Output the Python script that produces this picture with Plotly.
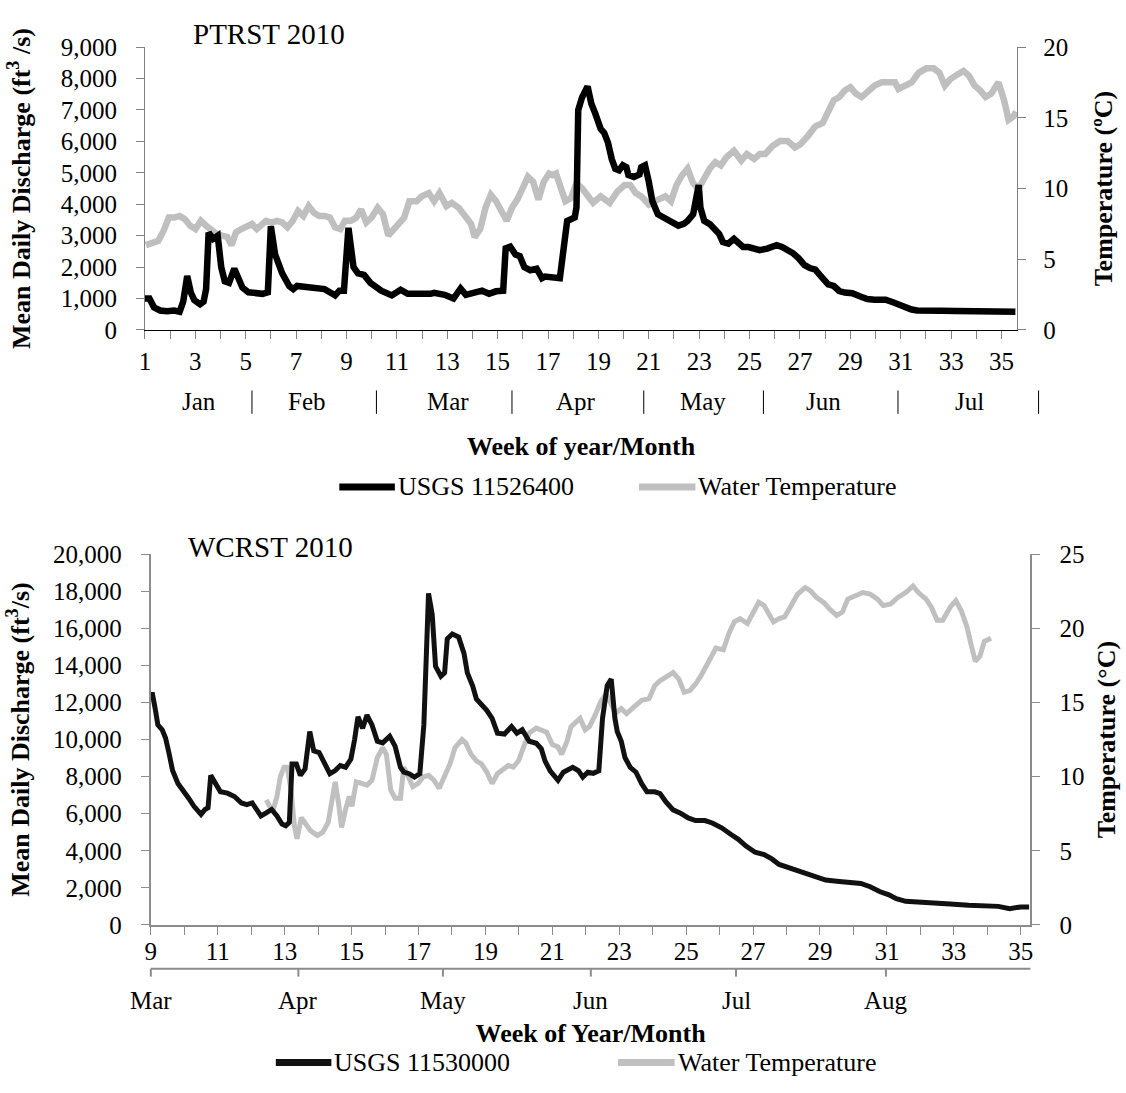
import plotly.graph_objects as go

# ---------------- DATA ----------------
# PTRST 2010 (top panel) : week of year vs mean daily discharge (ft3/s)
ptrst_q_week = [1.00, 1.18, 1.36, 1.60, 1.88, 2.16, 2.38, 2.52, 2.68, 2.82, 2.96, 3.19, 3.33, 3.43, 3.53,
                3.71, 3.89, 4.03, 4.17, 4.34, 4.55, 4.69, 4.87, 5.11, 5.39, 5.67, 5.88, 6.00, 6.17, 6.45,
                6.73, 6.89, 7.04, 7.43, 7.78, 8.13, 8.34, 8.55, 8.72, 8.90, 9.08, 9.28, 9.46, 9.70, 9.95,
                10.38, 10.80, 11.15, 11.43, 11.92, 12.34, 12.48, 12.90, 13.25, 13.53, 13.74, 14.17, 14.38,
                14.66, 14.94, 15.22, 15.32, 15.50, 15.71, 15.88, 16.06, 16.30, 16.55, 16.76, 16.88, 17.47,
                17.65, 17.76, 18.06, 18.13, 18.20, 18.35, 18.57, 18.72, 18.87, 19.09, 19.23, 19.38, 19.53,
                19.67, 19.82, 19.97, 20.11, 20.19, 20.41, 20.63, 20.70, 20.85, 21.00, 21.14, 21.36, 21.58,
                21.80, 22.02, 22.17, 22.39, 22.54, 22.76, 22.98, 23.05, 23.20, 23.42, 23.64, 23.79, 23.94,
                24.16, 24.38, 24.52, 24.74, 24.96, 25.18, 25.40, 25.70, 26.07, 26.29, 26.51, 26.73, 26.95,
                27.17, 27.39, 27.61, 27.83, 28.12, 28.34, 28.56, 28.78, 29.08, 29.37, 29.67, 29.96, 30.40,
                30.69, 30.99, 31.21, 31.43, 31.65, 32.02, 32.60, 33.19, 33.78, 34.37, 34.95, 35.55]
ptrst_q = [1000, 1000, 720, 620, 600, 620, 580, 900, 1720, 1200, 950, 820, 900, 1300, 3100,
           2900, 3000, 2000, 1550, 1500, 1950, 1700, 1350, 1200, 1150, 1150, 1200, 3300, 2400, 1800,
           1400, 1300, 1400, 1350, 1350, 1300, 1200, 1100, 1250, 1250, 3250, 2000, 1800, 1750, 1500,
           1250, 1100, 1280, 1150, 1130, 1150, 1180, 1120, 1000, 1320, 1120, 1180, 1250,
           1150, 1230, 1250, 2600, 2650, 2400, 2350, 2000, 1900, 1950, 1650, 1700, 1650,
           3000, 3470, 3580, 3900, 7000, 7400, 7750, 7200, 6900, 6400, 6270, 5960, 5440,
           5130, 5080, 5240, 5180, 4930, 4870, 4950, 5180, 5240, 4720, 4100, 3680, 3580,
           3470, 3370, 3320, 3380, 3470, 3680, 4610, 3890, 3470, 3370, 3210, 3060, 2800,
           2750, 2900, 2800, 2640, 2640, 2590, 2540, 2590, 2700, 2640, 2540, 2440, 2280,
           2070, 1970, 1920, 1710, 1450, 1400, 1240, 1190, 1170, 1070, 985, 965, 965,
           880, 780, 730, 650, 620, 600, 610, 600, 590, 580, 570, 580]

ptrst_t_week = [1.04, 1.18, 1.39, 1.53, 1.74, 1.95, 2.16, 2.38, 2.59, 2.80, 3.01, 3.22, 3.43, 3.64, 3.85,
                4.06, 4.27, 4.44, 4.62, 4.83, 5.04, 5.25, 5.44, 5.60, 5.81, 6.02, 6.24, 6.45, 6.66, 6.87,
                7.08, 7.29, 7.50, 7.71, 7.92, 8.13, 8.34, 8.55, 8.76, 8.94, 9.18, 9.39, 9.58, 9.79, 10.00,
                10.24, 10.45, 10.66, 10.87, 11.08, 11.29, 11.50, 11.78, 11.99, 12.27, 12.48, 12.69, 12.97,
                13.18, 13.46, 13.74, 13.95, 14.09, 14.31, 14.52, 14.73, 14.94, 15.15, 15.36, 15.57, 15.78,
                15.99, 16.20, 16.41, 16.62, 16.83, 17.04, 17.18, 17.32, 17.47, 17.69, 17.91, 18.13, 18.35,
                18.57, 18.79, 19.09, 19.45, 19.75, 20.04, 20.26, 20.48, 20.70, 21.00, 21.22, 21.44, 21.66,
                21.88, 22.10, 22.32, 22.54, 22.76, 22.98, 23.20, 23.42, 23.64, 23.86, 24.08, 24.38, 24.67,
                24.89, 25.18, 25.40, 25.62, 25.92, 26.21, 26.51, 26.80, 27.02, 27.31, 27.61, 27.90, 28.12,
                28.34, 28.56, 28.78, 29.00, 29.22, 29.45, 29.67, 29.96, 30.25, 30.55, 30.77, 30.91, 31.21,
                31.43, 31.72, 32.02, 32.31, 32.53, 32.75, 32.97, 33.27, 33.49, 33.71, 33.93, 34.15, 34.37,
                34.59, 34.88, 35.10, 35.28, 35.47, 35.58]
ptrst_t = [6.0, 6.1, 6.3, 6.3, 7.0, 7.95, 7.95, 8.06, 7.83, 7.37, 7.14, 7.72, 7.37, 7.03, 6.8,
           6.68, 6.57, 6.0, 6.91, 7.14, 7.37, 7.49, 7.14, 7.37, 7.72, 7.6, 7.72, 7.6, 7.26, 7.72,
           8.41, 8.06, 8.76, 8.29, 8.06, 8.06, 7.95, 7.26, 7.14, 7.72, 7.72, 7.95, 8.53, 7.6, 7.95,
           8.64, 8.18, 6.68, 7.14, 7.6, 7.95, 9.1, 9.1, 9.45, 9.68, 9.1, 9.68, 8.76,
           8.99, 8.64, 7.95, 7.49, 6.57, 7.14, 8.64, 9.56, 9.1, 8.41, 7.72, 8.64, 9.22,
           10.02, 10.83, 10.48, 9.22, 10.48, 11.06, 10.94, 11.06, 10.25, 9.1, 9.33, 10.37, 10.02,
           9.45, 8.99, 9.45, 8.99, 9.79, 10.25, 10.25, 9.68, 9.45, 8.87, 9.1, 9.22, 9.45,
           9.1, 10.25, 10.94, 11.41, 10.37, 10.02, 10.71, 11.41, 11.87, 11.64, 12.21, 12.67, 11.98,
           12.44, 12.1, 12.44, 12.44, 13.02, 13.36, 13.36, 12.9, 13.13, 13.71, 14.4, 14.63, 15.55,
           16.24, 16.47, 16.94, 17.17, 16.71, 16.47, 16.82, 17.28, 17.51, 17.51, 17.51, 17.05, 17.28,
           17.51, 18.2, 18.5, 18.5, 18.2, 17.28, 17.74, 18.09, 18.32, 17.97, 17.28, 16.94, 16.47,
           16.71, 17.51, 16.24, 14.86, 15.09, 15.44]

# WCRST 2010 (bottom panel)
wcrst_q_week = [9.00, 9.04, 9.13, 9.21, 9.34, 9.44, 9.55, 9.65, 9.81, 9.97, 10.13, 10.29, 10.39, 10.50,
                10.62, 10.71, 10.79, 10.92, 11.08, 11.29, 11.50, 11.71, 11.87, 12.03, 12.13, 12.29, 12.45,
                12.61, 12.77, 12.92, 13.03, 13.14, 13.22, 13.35, 13.47, 13.61, 13.75, 13.87, 14.03, 14.19,
                14.35, 14.51, 14.66, 14.82, 14.98, 15.09, 15.19, 15.33, 15.46, 15.61, 15.77, 15.93, 16.14,
                16.30, 16.46, 16.56, 16.72, 16.88, 17.04, 17.16, 17.30, 17.41, 17.51, 17.67, 17.78, 17.86,
                18.01, 18.20, 18.36, 18.46, 18.62, 18.73, 18.88, 19.04, 19.20, 19.36, 19.57, 19.78, 19.94,
                20.10, 20.31, 20.52, 20.67, 20.78, 20.94, 21.17, 21.33, 21.61, 21.78, 21.91, 22.06, 22.22,
                22.39, 22.50, 22.64, 22.76, 22.87, 22.94, 23.06, 23.17, 23.33, 23.50, 23.67, 23.83, 24.06,
                24.22, 24.39, 24.61, 24.83, 25.06, 25.28, 25.56, 25.78, 26.06, 26.33, 26.56, 26.78, 27.06,
                27.33, 27.56, 27.78, 28.06, 28.33, 28.61, 28.89, 29.17, 29.50, 29.89, 30.22, 30.50, 30.78,
                31.06, 31.28, 31.56, 31.89, 32.33, 32.89, 33.44, 34.00, 34.33, 34.67, 35.00, 35.25]
wcrst_q = [12200, 12540, 11670, 10790, 10530, 10090, 9210, 8330, 7630, 7280, 6840, 6400, 6140, 5960,
           6230, 6320, 8070, 7630, 7190, 7110, 6930, 6580, 6490, 6580, 6320, 5880, 6050,
           6230, 5880, 5440, 5350, 5530, 8680, 8680, 8070, 8420, 10440, 9390, 9300, 8770,
           8160, 8330, 8600, 8510, 8950, 10000, 11230, 10610, 11320, 10790, 9910, 9820, 10180,
           9650, 8510, 8250, 8160, 7980, 8160, 10790, 17890, 16750, 13950, 13420, 13600, 15440,
           15700, 15530, 14650, 13600, 12890, 12190, 11930, 11580, 11140, 10350, 10300, 10700, 10350,
           10530, 9910, 9800, 9500, 8850, 8300, 7800, 8240, 8500, 8320, 7970, 8240, 8180,
           8320, 11150, 12910, 13260, 11150, 10440, 9910, 9030, 8500, 8240, 7620, 7180, 7180,
           7090, 6650, 6210, 6030, 5770, 5630, 5630, 5500, 5240, 4890, 4620, 4270, 3920,
           3790, 3560, 3260, 3090, 2950, 2770, 2560, 2420, 2360, 2330, 2240, 2060, 1800,
           1620, 1410, 1270, 1220, 1180, 1130, 1060, 1000, 1000, 880, 970, 970]

wcrst_t_week = [12.45, 12.55, 12.66, 12.77, 12.87, 12.98, 13.08, 13.19, 13.29, 13.37, 13.50, 13.61, 13.77,
                13.98, 14.14, 14.30, 14.40, 14.51, 14.61, 14.70, 14.82, 14.93, 15.01, 15.14, 15.30, 15.46,
                15.61, 15.77, 15.93, 16.04, 16.17, 16.30, 16.46, 16.56, 16.70, 16.83, 16.99, 17.14, 17.30,
                17.46, 17.62, 17.78, 17.94, 18.09, 18.30, 18.41, 18.57, 18.73, 18.88, 19.04, 19.20, 19.36,
                19.52, 19.68, 19.83, 19.99, 20.15, 20.31, 20.52, 20.67, 20.83, 21.00, 21.17, 21.28, 21.44,
                21.56, 21.72, 21.83, 21.98, 22.11, 22.28, 22.44, 22.61, 22.76, 22.89, 23.06, 23.22, 23.44,
                23.67, 23.89, 24.06, 24.22, 24.44, 24.61, 24.78, 24.94, 25.11, 25.28, 25.44, 25.67, 25.89,
                26.11, 26.28, 26.44, 26.61, 26.83, 27.00, 27.17, 27.33, 27.50, 27.61, 27.78, 27.94, 28.11,
                28.33, 28.56, 28.72, 28.89, 29.11, 29.28, 29.50, 29.67, 29.83, 30.06, 30.28, 30.50, 30.72,
                30.89, 31.11, 31.33, 31.56, 31.78, 31.94, 32.17, 32.33, 32.50, 32.67, 32.89, 33.06, 33.22,
                33.39, 33.53, 33.64, 33.78, 33.91, 34.11]
wcrst_t = [8.44, 8.0, 7.79, 8.66, 9.98, 10.64, 10.64, 9.1, 6.69, 5.81, 7.24, 6.91, 6.36,
           6.03, 6.25, 6.91, 8.11, 9.65, 8.22, 6.58, 7.79, 8.66, 8.0, 9.65, 9.54, 9.43,
           9.76, 11.29, 11.95, 11.51, 9.1, 8.55, 8.55, 10.64, 9.98, 9.32, 9.54, 9.98, 10.09,
           9.76, 9.21, 9.98, 10.86, 11.95, 12.5, 12.28, 11.51, 11.07, 10.86, 10.31, 9.54, 10.2,
           10.53, 10.75, 10.64, 11.07, 12.06, 12.94, 13.27, 13.16, 13.0, 12.17, 12.0, 11.51, 12.39,
           13.38, 13.71, 13.93, 13.16, 13.38, 14.15, 15.04, 15.59, 14.93, 14.26, 14.59, 14.26, 14.7,
           15.15, 15.26, 16.14, 16.47, 16.8, 17.02, 16.58, 15.7, 15.81, 16.25, 16.8, 17.79, 18.67,
           18.56, 19.67, 20.44, 20.66, 20.33, 21.1, 21.76, 21.54, 20.88, 20.44, 20.66, 20.77, 21.43,
           22.31, 22.75, 22.53, 22.09, 21.76, 21.32, 20.88, 21.1, 21.98, 22.2, 22.42, 22.31, 21.98,
           21.54, 21.65, 22.09, 22.42, 22.86, 22.42, 21.98, 21.43, 20.55, 20.55, 21.43, 21.87, 21.21,
           20.11, 18.78, 17.79, 18.12, 19.11, 19.33]

# Month labels / boundaries (in week-of-year units)
ptrst_months = ["Jan", "Feb", "Mar", "Apr", "May", "Jun", "Jul"]
ptrst_month_label_week = [3.13, 7.43, 13.02, 18.11, 23.14, 27.94, 33.71]
ptrst_month_sep_week = [5.25, 10.19, 15.57, 20.80, 25.55, 30.89, 36.47]

wcrst_months = ["Mar", "Apr", "May", "Jun", "Jul", "Aug"]
wcrst_month_week = [9.00, 13.41, 17.73, 22.15, 26.49, 30.97]

ptrst_series_names = ["USGS 11526400", "Water Temperature"]
wcrst_series_names = ["USGS 11530000", "Water Temperature"]

# ---------------- LAYOUT GEOMETRY ----------------
W, H = 1126, 1093
FONT = "Liberation Serif"

top_x = (140.0, 1019.3)
top_y = (35.0, 325.0)
top_xr = (1.0, 35.62)
bot_x = (146.0, 1032.7)
bot_y = (555.0, 935.0)
bot_xr = (9.0, 35.29)


def px(v):
    return v / W


def py(v):
    return 1 - v / H


def wk2paper(w, xpx, xr):
    return px(xpx[0] + (w - xr[0]) / (xr[1] - xr[0]) * (xpx[1] - xpx[0]))


BLACK = "#000000"
GRAY = "#bfbfbf"
BLACK2 = "#111111"
GRAY2 = "#c0c0c0"

fig = go.Figure()

fig.add_trace(go.Scatter(x=ptrst_q_week, y=ptrst_q, name=ptrst_series_names[0], mode="lines",
                         line=dict(color=BLACK, width=6.5), xaxis="x", yaxis="y2", showlegend=False))
fig.add_trace(go.Scatter(x=ptrst_t_week, y=ptrst_t, name=ptrst_series_names[1], mode="lines",
                         line=dict(color=GRAY, width=6.5), xaxis="x", yaxis="y", showlegend=False))
fig.add_trace(go.Scatter(x=wcrst_q_week, y=wcrst_q, name=wcrst_series_names[0], mode="lines",
                         line=dict(color=BLACK2, width=5), xaxis="x2", yaxis="y4", showlegend=False))
fig.add_trace(go.Scatter(x=wcrst_t_week, y=wcrst_t, name=wcrst_series_names[1], mode="lines",
                         line=dict(color=GRAY2, width=5), xaxis="x2", yaxis="y3", showlegend=False))

tickfont = dict(family=FONT, size=25, color="black")
titlefont = dict(family=FONT, size=26, color="black")

common_x = dict(showgrid=False, zeroline=False, showline=True, ticks="outside", ticklen=8,
                tickfont=tickfont)

fig.update_layout(
    width=W, height=H,
    margin=dict(l=0, r=0, t=0, b=0),
    paper_bgcolor="white", plot_bgcolor="white",
    font=dict(family=FONT, size=25, color="black"),
    showlegend=False,
    xaxis=dict(domain=[px(top_x[0]), px(top_x[1])], range=list(top_xr), anchor="y",
               tick0=1, dtick=2, linecolor="black", linewidth=1, tickcolor="#808080",
               minor=dict(dtick=1, tick0=1, ticks="outside", ticklen=8, tickcolor="#808080"),
               title=dict(text="<b>Week of year/Month</b>", font=titlefont, standoff=62),
               ticklabelstandoff=1, **common_x),
    yaxis=dict(domain=[py(top_y[1]), py(top_y[0])], range=[0, 20], dtick=5, side="right", anchor="x",
               showgrid=False, zeroline=False, showline=True, linecolor="#808080", linewidth=1,
               ticks="outside", ticklen=8, tickcolor="#808080", tickfont=tickfont,
               ticklabelstandoff=12,
               title=dict(text="<b>Temperature (ºC)</b>", font=titlefont, standoff=26)),
    yaxis2=dict(range=[0, 9000], dtick=1000, tickformat=",d", side="left", overlaying="y", anchor="x",
                showgrid=False, zeroline=False, showline=True, linecolor="#808080", linewidth=1,
                ticks="outside", ticklen=8, tickcolor="#808080", tickfont=tickfont,
                ticklabelstandoff=14,
                title=dict(text="<b>Mean Daily Discharge (ft<sup>3</sup> /s)</b>", font=titlefont,
                           standoff=22)),
    xaxis2=dict(domain=[px(bot_x[0]), px(bot_x[1])], range=list(bot_xr), anchor="y3",
                tick0=9, dtick=2, linecolor="#8c8c8c", linewidth=2, tickcolor="#8c8c8c",
                minor=dict(dtick=1, tick0=9, ticks="outside", ticklen=8, tickcolor="#8c8c8c"),
                title=dict(text="<b>Week of Year/Month</b>", font=titlefont, standoff=60),
                ticklabelstandoff=-5, **common_x),
    yaxis3=dict(domain=[py(bot_y[1]), py(bot_y[0])], range=[0, 25], dtick=5, side="right", anchor="x2",
                showgrid=False, zeroline=False, showline=True, linecolor="#8c8c8c", linewidth=2,
                ticks="outside", ticklen=8, tickcolor="#8c8c8c", tickfont=tickfont,
                ticklabelstandoff=14,
                title=dict(text="<b>Temperature (°C)</b>", font=titlefont, standoff=13)),
    yaxis4=dict(range=[0, 20000], dtick=2000, tickformat=",d", side="left", overlaying="y3", anchor="x2",
                showgrid=False, zeroline=False, showline=True, linecolor="#8c8c8c", linewidth=2,
                ticks="outside", ticklen=8, tickcolor="#8c8c8c", tickfont=tickfont,
                ticklabelstandoff=14,
                title=dict(text="<b>Mean Daily Discharge (ft<sup>3</sup>/s)</b>", font=titlefont,
                           standoff=16)),
)

annotations = []
shapes = []

# Panel titles
annotations.append(dict(text="PTRST 2010", x=px(265), y=py(22), xref="paper", yref="paper",
                        showarrow=False, xanchor="center", yanchor="middle",
                        font=dict(family=FONT, size=29, color="black")))
annotations.append(dict(text="WCRST 2010", x=px(267), y=py(548), xref="paper", yref="paper",
                        showarrow=False, xanchor="center", yanchor="middle",
                        font=dict(family=FONT, size=29, color="black")))

# Top month row: labels with separators
for name, w in zip(ptrst_months, ptrst_month_label_week):
    annotations.append(dict(text=name, x=wk2paper(w, top_x, top_xr), y=py(398), xref="paper", yref="paper",
                            showarrow=False, xanchor="center", yanchor="middle",
                            font=dict(family=FONT, size=25, color="black")))
for w in ptrst_month_sep_week:
    xp = wk2paper(w, top_x, top_xr)
    shapes.append(dict(type="line", xref="paper", yref="paper", x0=xp, x1=xp, y0=py(387), y1=py(411),
                       line=dict(color="black", width=1)))

# Bottom month axis
shapes.append(dict(type="line", xref="paper", yref="paper", x0=px(bot_x[0]), x1=px(bot_x[1]),
                   y0=py(980), y1=py(980), line=dict(color="#8c8c8c", width=2)))
for name, w in zip(wcrst_months, wcrst_month_week):
    xp = wk2paper(w, bot_x, bot_xr)
    shapes.append(dict(type="line", xref="paper", yref="paper", x0=xp, x1=xp, y0=py(980), y1=py(988),
                       line=dict(color="#8c8c8c", width=2)))
    annotations.append(dict(text=name, x=xp, y=py(1013), xref="paper", yref="paper",
                            showarrow=False, xanchor="center", yanchor="middle",
                            font=dict(family=FONT, size=25, color="black")))


# Legends (line sample + label)
def add_legend(items, y_px):
    for (name, color, x0, x1) in items:
        shapes.append(dict(type="line", xref="paper", yref="paper", x0=px(x0), x1=px(x1),
                           y0=py(y_px), y1=py(y_px), line=dict(color=color, width=7)))
        annotations.append(dict(text=name, x=px(x1 + 1), y=py(y_px), xref="paper", yref="paper",
                                showarrow=False, xanchor="left", yanchor="middle",
                                font=dict(family=FONT, size=26, color="black")))


add_legend([(ptrst_series_names[0], BLACK, 336, 392), (ptrst_series_names[1], GRAY, 638, 695)], 486)
add_legend([(wcrst_series_names[0], BLACK2, 272, 328), (wcrst_series_names[1], GRAY2, 617, 674)], 1076)

fig.update_layout(annotations=annotations, shapes=shapes)

fig.write_html("out.html")
